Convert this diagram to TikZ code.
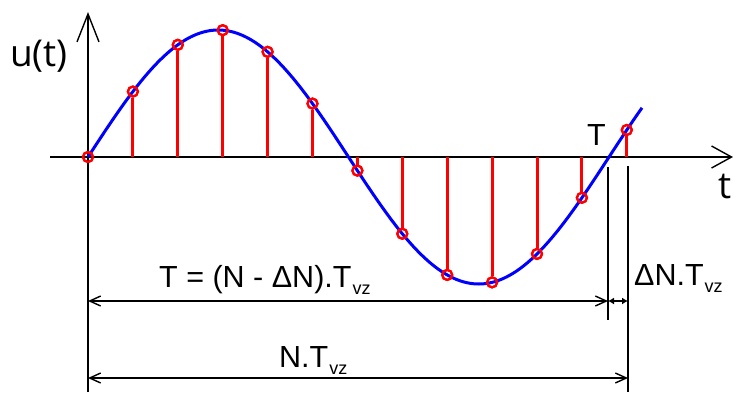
\documentclass[tikz,border=0pt]{standalone}
\usepackage{fontspec}
\setmainfont{Liberation Sans}
\newfontfamily\axfont{Open Sans}
\usetikzlibrary{arrows.meta}
\tikzset{
  ax/.style={line width=1.4pt, black},
  dimline/.style={line width=1.4pt, black, {Straight Barb[length=11pt,width=10pt,line width=1.4pt]}-{Straight Barb[length=11pt,width=10pt,line width=1.4pt]}},
  smalldim/.style={line width=1.4pt, black, {Latex[length=6pt,width=7pt]}-{Latex[length=6pt,width=7pt]}},
  wave/.style={blue, line width=3pt},
  stem/.style={red, line width=3pt},
  smp/.style={circle, draw=red, line width=2.2pt, minimum size=10pt, inner sep=0pt},
  lab/.style={inner sep=0pt, font=\fontsize{30.5}{32}\selectfont},
  axlab/.style={inner sep=0pt, font=\axfont\fontsize{37}{40}\selectfont},
}
\newcommand{\vzsub}{\kern1pt\raisebox{-7pt}{\fontsize{18}{19}\selectfont vz}}
\begin{document}
\begin{tikzpicture}[x=1pt,y=-1pt]
\useasboundingbox (0,0) rectangle (733,392);
% axes
\coordinate (O) at (88,157);
\coordinate (ybot) at (88,392);
\coordinate (ytop) at (88,12);
\coordinate (xl) at (50,157);
\coordinate (xr) at (733,157);
\draw[ax, -{Straight Barb[length=28pt,width=22pt,line width=1.4pt]}] (ybot) -- (ytop);
\draw[ax, -{Straight Barb[length=20pt,width=22pt,line width=1.4pt]}] (xl) -- (xr);
% sine
\draw[wave] plot[domain=88:642, samples=120, smooth] (\x, {157 - 127*sin(((\x-88)/521)*360)});
% samples
\foreach \k in {0,...,12}{
  \pgfmathsetmacro{\xx}{88+44.9*\k}
  \pgfmathsetmacro{\yy}{157 - 127*sin(((\xx-88)/521)*360)}
  \coordinate (b\k) at (\xx,157);
  \node[smp] (s\k) at (\xx,\yy) {};
}
\foreach \k in {1,...,12}{
  \draw[stem] (b\k) -- (s\k);
}
\foreach \k in {0,...,12}{
  \node[smp] at (s\k) {};
}
% dimension verticals
\coordinate (va1) at (608,167);
\coordinate (va2) at (608,320);
\coordinate (vb1) at (628,166);
\coordinate (vb2) at (628,392);
\draw[ax] (va1) -- (va2);
\draw[ax] (vb1) -- (vb2);
% dimension lines
\coordinate (d1l) at (88,301);
\coordinate (d1r) at (608,301);
\coordinate (d2r) at (628,301);
\coordinate (d3l) at (88,378);
\coordinate (d3r) at (628,378);
\draw[dimline] (d1l) -- (d1r);
\draw[smalldim] (d1r) -- (d2r);
\draw[dimline] (d3l) -- (d3r);
% labels
\node[axlab, anchor=base west] (ut) at (10,66) {u(t)};
\node[axlab, anchor=base west] (tl) at (718,198) {t};
\node[lab, anchor=base west] (Tl) at (587,145) {T};
\node[lab, anchor=base west] (eq) at (159,287) {T = (N - ΔN).T\vzsub};
\node[lab, anchor=base west] (dn) at (634,285) {ΔN.T\vzsub};
\node[lab, anchor=base west] (nt) at (279,367) {N.T\vzsub};
\end{tikzpicture}
\end{document}
